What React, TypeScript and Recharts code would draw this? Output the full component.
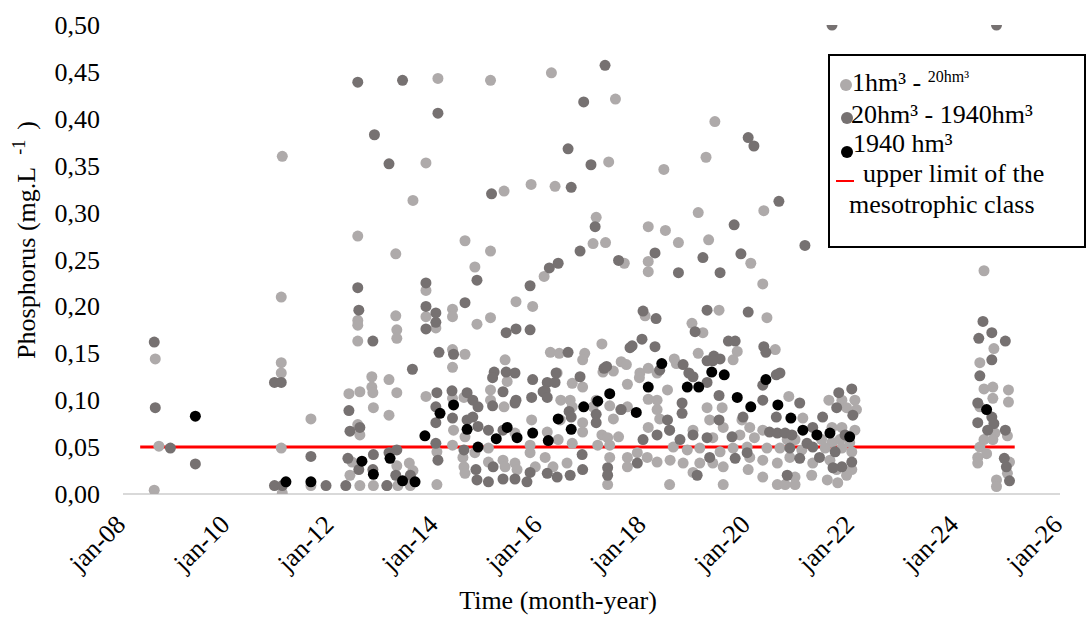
import React from 'react';
import { ScatterChart, Scatter, XAxis, YAxis } from 'recharts';

// [decimal year, total phosphorus mg/L]
const smallReservoirs: [number, number][] = [
  [2008.62, 0.144], [2008.69, 0.051], [2008.60, 0.004],
  [2011.06, 0.360], [2011.04, 0.210], [2011.04, 0.140], [2011.04, 0.129], [2011.04, 0.049], [2011.06, 0.001],
  [2011.61, 0.080], [2011.61, 0.009],
  [2012.51, 0.275], [2013.24, 0.256], [2013.57, 0.313], [2013.82, 0.353], [2012.51, 0.185], [2012.51, 0.180],
  [2012.51, 0.163], [2013.24, 0.190], [2013.26, 0.175], [2013.26, 0.166], [2013.82, 0.189], [2013.82, 0.217],
  [2012.34, 0.107], [2012.55, 0.109], [2012.78, 0.125], [2012.78, 0.114], [2012.80, 0.108], [2013.11, 0.122],
  [2013.26, 0.108], [2013.82, 0.104], [2012.81, 0.092], [2013.11, 0.084], [2012.51, 0.074], [2012.55, 0.063],
  [2012.36, 0.020], [2012.40, 0.034], [2013.26, 0.030], [2013.50, 0.033], [2013.57, 0.025], [2012.55, 0.009],
  [2012.81, 0.009], [2013.07, 0.009], [2013.28, 0.009], [2013.52, 0.009],
  [2014.05, 0.443], [2015.06, 0.441], [2016.23, 0.449], [2017.46, 0.421], [2017.33, 0.354], [2018.39, 0.346],
  [2015.32, 0.323], [2015.84, 0.330], [2016.30, 0.328], [2017.09, 0.295], [2018.09, 0.285], [2018.42, 0.281],
  [2014.57, 0.270], [2015.06, 0.259], [2017.03, 0.267], [2017.27, 0.268], [2017.63, 0.246], [2018.09, 0.248],
  [2018.09, 0.237], [2014.76, 0.242], [2016.09, 0.232], [2014.01, 0.177], [2014.33, 0.197], [2014.33, 0.189],
  [2014.80, 0.181], [2015.06, 0.188], [2015.55, 0.205], [2015.87, 0.200], [2018.03, 0.190], [2017.20, 0.160],
  [2014.33, 0.154], [2014.57, 0.149], [2014.33, 0.135], [2015.34, 0.143], [2016.21, 0.151], [2016.38, 0.150],
  [2016.87, 0.150], [2016.83, 0.143], [2017.57, 0.141],
  [2014.33, 0.102], [2014.55, 0.103], [2015.06, 0.111], [2015.06, 0.100], [2015.32, 0.093], [2015.38, 0.120],
  [2014.35, 0.068], [2014.57, 0.061], [2015.53, 0.065], [2015.85, 0.079], [2014.03, 0.045], [2014.33, 0.052],
  [2014.53, 0.039], [2014.55, 0.029], [2014.57, 0.022], [2014.76, 0.044], [2015.02, 0.049], [2015.02, 0.034],
  [2015.30, 0.036], [2015.34, 0.029], [2015.53, 0.033], [2015.57, 0.026], [2015.82, 0.052], [2015.82, 0.044],
  [2015.92, 0.029], [2014.03, 0.010],
  [2016.34, 0.129], [2016.83, 0.114], [2016.63, 0.118], [2017.22, 0.130], [2017.42, 0.131], [2017.67, 0.138],
  [2017.93, 0.129], [2017.92, 0.124], [2018.09, 0.134], [2018.26, 0.129], [2017.69, 0.117], [2016.41, 0.100],
  [2016.59, 0.100], [2016.63, 0.093], [2016.40, 0.079], [2017.09, 0.100], [2017.03, 0.093], [2017.35, 0.094],
  [2017.42, 0.080], [2017.56, 0.090], [2017.69, 0.093], [2018.09, 0.101], [2018.26, 0.100], [2018.26, 0.090],
  [2018.31, 0.080], [2018.09, 0.071], [2016.15, 0.066], [2016.36, 0.058], [2016.63, 0.054], [2016.83, 0.076],
  [2016.83, 0.066], [2017.20, 0.063], [2017.31, 0.060], [2017.52, 0.061], [2017.12, 0.052], [2017.35, 0.052],
  [2016.11, 0.039], [2016.26, 0.029], [2016.53, 0.033], [2017.35, 0.039], [2017.69, 0.039], [2017.69, 0.029],
  [2017.88, 0.044], [2018.07, 0.039], [2018.26, 0.034], [2017.31, 0.010],
  [2018.93, 0.182], [2019.14, 0.172], [2019.80, 0.152], [2019.72, 0.143], [2020.53, 0.154], [2019.05, 0.150],
  [2018.63, 0.139], [2018.59, 0.144], [2018.46, 0.111], [2019.22, 0.092], [2019.51, 0.092], [2019.27, 0.079],
  [2019.53, 0.071], [2019.89, 0.079], [2020.04, 0.071], [2020.29, 0.068], [2018.50, 0.068], [2018.95, 0.068],
  [2019.33, 0.060], [2019.85, 0.063], [2020.13, 0.060], [2018.57, 0.050], [2018.84, 0.047], [2019.08, 0.049],
  [2019.47, 0.045], [2019.72, 0.049], [2019.99, 0.050], [2020.37, 0.049], [2020.62, 0.049], [2018.51, 0.036],
  [2018.76, 0.033], [2019.08, 0.033], [2019.33, 0.033], [2019.53, 0.029], [2020.04, 0.039], [2020.29, 0.036],
  [2020.57, 0.033], [2018.95, 0.023], [2020.01, 0.026], [2020.29, 0.018], [2020.57, 0.010], [2018.50, 0.010],
  [2019.53, 0.010],
  [2019.37, 0.397], [2019.20, 0.359], [2020.31, 0.302], [2019.05, 0.300], [2018.67, 0.268], [2019.25, 0.271],
  [2020.06, 0.246], [2020.29, 0.224], [2019.45, 0.196], [2020.37, 0.188],
  [2020.79, 0.104], [2021.06, 0.081], [2021.56, 0.100], [2021.81, 0.100], [2022.06, 0.100], [2021.90, 0.092],
  [2022.09, 0.090], [2021.62, 0.071], [2021.81, 0.071], [2022.06, 0.068], [2020.76, 0.058], [2020.91, 0.058],
  [2021.04, 0.047], [2021.42, 0.058], [2021.62, 0.055], [2021.77, 0.058], [2021.96, 0.055], [2021.49, 0.049],
  [2021.81, 0.049], [2022.00, 0.045], [2020.81, 0.039], [2021.25, 0.033], [2021.58, 0.036], [2020.91, 0.018],
  [2021.23, 0.020], [2021.53, 0.015], [2022.00, 0.026], [2021.71, 0.026], [2021.90, 0.020], [2020.72, 0.010],
  [2020.91, 0.010], [2021.73, 0.012],
  [2024.54, 0.238], [2024.73, 0.155], [2024.46, 0.140], [2024.54, 0.112], [2024.71, 0.114], [2025.01, 0.111],
  [2024.71, 0.102], [2025.01, 0.098], [2024.46, 0.093], [2024.99, 0.062], [2024.75, 0.065], [2024.71, 0.058],
  [2024.54, 0.058], [2024.46, 0.050], [2024.59, 0.043], [2024.42, 0.039], [2024.42, 0.033], [2025.03, 0.034],
  [2024.99, 0.022], [2024.78, 0.015], [2024.78, 0.008],
];

const mediumReservoirs: [number, number][] = [
  [2008.60, 0.162], [2008.62, 0.092], [2008.91, 0.049], [2009.39, 0.032],
  [2010.91, 0.119], [2011.04, 0.119], [2010.91, 0.009], [2011.06, 0.009],
  [2011.61, 0.040], [2011.90, 0.009],
  [2012.51, 0.439], [2013.37, 0.441], [2012.83, 0.383], [2013.11, 0.352], [2012.51, 0.220], [2013.82, 0.225],
  [2012.53, 0.196], [2012.80, 0.163], [2013.82, 0.200], [2013.82, 0.176], [2013.56, 0.133], [2012.34, 0.089],
  [2012.55, 0.071], [2012.36, 0.067], [2012.32, 0.038], [2012.53, 0.026], [2012.81, 0.042], [2012.80, 0.026],
  [2013.11, 0.044], [2013.26, 0.047], [2013.24, 0.020], [2013.52, 0.020], [2012.28, 0.009], [2013.07, 0.009],
  [2014.05, 0.406], [2017.26, 0.457], [2016.85, 0.418], [2016.55, 0.368], [2016.99, 0.351], [2015.08, 0.320],
  [2016.61, 0.327], [2017.07, 0.285], [2016.78, 0.259], [2018.22, 0.257], [2017.52, 0.249], [2016.19, 0.241],
  [2016.36, 0.246], [2014.80, 0.228], [2015.82, 0.222], [2014.01, 0.193], [2014.01, 0.183], [2014.57, 0.204],
  [2015.36, 0.172], [2015.55, 0.176], [2015.82, 0.175], [2017.99, 0.195], [2018.24, 0.187], [2017.78, 0.158],
  [2017.74, 0.156], [2017.97, 0.165], [2018.22, 0.157], [2014.07, 0.151], [2014.35, 0.149], [2016.55, 0.151],
  [2017.24, 0.134], [2017.29, 0.136],
  [2015.13, 0.130], [2015.10, 0.124], [2015.36, 0.130], [2015.53, 0.129], [2015.87, 0.122], [2014.03, 0.108],
  [2014.01, 0.093], [2014.32, 0.110], [2014.61, 0.108], [2014.72, 0.100], [2014.82, 0.093], [2015.10, 0.094],
  [2015.30, 0.109], [2015.53, 0.097], [2015.55, 0.100], [2015.85, 0.103], [2016.07, 0.109], [2014.01, 0.076],
  [2014.33, 0.081], [2014.61, 0.079], [2014.72, 0.082], [2014.82, 0.072], [2015.02, 0.068], [2015.30, 0.068],
  [2014.01, 0.054], [2014.05, 0.036], [2014.55, 0.047], [2014.78, 0.026], [2014.80, 0.015], [2015.11, 0.029],
  [2015.02, 0.013], [2015.30, 0.016], [2015.53, 0.016], [2015.82, 0.023], [2015.76, 0.013],
  [2016.32, 0.129], [2016.15, 0.119], [2016.30, 0.119], [2016.11, 0.110], [2016.15, 0.103], [2016.78, 0.125],
  [2018.31, 0.132], [2016.57, 0.088], [2016.61, 0.082], [2017.09, 0.085], [2017.09, 0.076], [2017.57, 0.090],
  [2017.99, 0.058], [2018.26, 0.063], [2016.15, 0.022], [2016.34, 0.018], [2016.59, 0.020], [2016.82, 0.042],
  [2016.83, 0.026], [2017.31, 0.028], [2017.31, 0.020], [2017.88, 0.033],
  [2018.99, 0.173], [2019.63, 0.163], [2019.76, 0.163], [2020.31, 0.157], [2020.35, 0.151], [2019.22, 0.142],
  [2019.35, 0.147], [2019.47, 0.144], [2019.33, 0.142], [2018.76, 0.138], [2018.87, 0.129], [2018.95, 0.125],
  [2019.22, 0.119], [2019.45, 0.105], [2018.74, 0.097], [2018.74, 0.086], [2019.45, 0.079], [2019.91, 0.082],
  [2020.29, 0.100], [2020.29, 0.116], [2020.55, 0.127], [2020.55, 0.082], [2018.46, 0.079], [2018.50, 0.068],
  [2018.70, 0.058], [2018.95, 0.063], [2019.22, 0.060], [2019.27, 0.039], [2019.70, 0.061], [2019.99, 0.044],
  [2020.42, 0.066], [2020.57, 0.065], [2019.03, 0.020], [2019.76, 0.038],
  [2020.01, 0.380], [2020.12, 0.371], [2020.60, 0.312], [2019.74, 0.287], [2019.14, 0.252], [2019.87, 0.256],
  [2021.10, 0.265], [2018.67, 0.236], [2019.47, 0.236], [2019.22, 0.196], [2020.01, 0.194],
  [2021.62, 0.500], [2024.78, 0.500],
  [2020.62, 0.129], [2021.00, 0.097], [2021.75, 0.108], [2022.00, 0.112], [2021.71, 0.092], [2022.02, 0.084],
  [2021.44, 0.082], [2021.25, 0.071], [2021.87, 0.063], [2020.72, 0.065], [2020.85, 0.063], [2021.14, 0.054],
  [2020.81, 0.049], [2021.25, 0.050], [2021.68, 0.045], [2021.00, 0.038], [2021.38, 0.039], [2022.00, 0.034],
  [2021.81, 0.029], [2021.64, 0.028], [2020.76, 0.020],
  [2024.52, 0.184], [2024.69, 0.172], [2024.44, 0.166], [2024.95, 0.163], [2024.69, 0.143], [2024.46, 0.126],
  [2024.42, 0.097], [2024.69, 0.082], [2024.73, 0.075], [2024.42, 0.076], [2024.61, 0.068], [2024.95, 0.068],
  [2024.93, 0.038], [2024.97, 0.029], [2025.03, 0.014],
];

const largeReservoirs: [number, number][] = [
  [2009.39, 0.083], [2011.13, 0.013], [2011.61, 0.013], [2013.80, 0.062], [2012.59, 0.035], [2012.81, 0.021],
  [2013.13, 0.038], [2013.37, 0.014], [2013.61, 0.013], [2014.09, 0.086], [2014.35, 0.095], [2014.61, 0.069],
  [2015.17, 0.059], [2015.38, 0.071], [2015.57, 0.060], [2015.87, 0.065], [2014.82, 0.050], [2017.35, 0.107],
  [2016.85, 0.093], [2017.12, 0.099], [2018.09, 0.114], [2017.86, 0.087], [2016.36, 0.080], [2016.61, 0.069],
  [2016.17, 0.057], [2018.35, 0.139], [2019.31, 0.130], [2019.55, 0.127], [2018.84, 0.114], [2019.06, 0.114],
  [2019.80, 0.103], [2020.06, 0.093], [2020.35, 0.122], [2020.58, 0.095], [2020.83, 0.081], [2021.06, 0.068],
  [2021.33, 0.063], [2021.58, 0.065], [2021.96, 0.061], [2024.59, 0.090],
];

const mesotrophicLimit = 0.05;
const limitSpan = [2008.33, 2025.13];
const xTicks = [2008, 2010, 2012, 2014, 2016, 2018, 2020, 2022, 2024, 2026];
const yTicks = [0, 0.05, 0.1, 0.15, 0.2, 0.25, 0.3, 0.35, 0.4, 0.45, 0.5];

const LIGHT = '#aeaaaa';
const DARK = '#767171';
const BLACK = '#000000';
const FONT = '"Liberation Serif", "Times New Roman", serif';

const toPoints = (rows: [number, number][]) => rows.map(([x, y]) => ({ x, y }));
const limitLine = limitSpan.map((x) => ({ x, y: mesotrophicLimit }));

const dot = (color: string) => (p: any) => <circle cx={p.cx} cy={p.cy} r={5.5} fill={color} />;

const XTick = ({ x, y, payload }: any) => {
  const bx = x + 4;
  const by = y + 24;
  return (
    <text
      x={bx}
      y={by}
      transform={`rotate(-45 ${bx} ${by})`}
      textAnchor="end"
      style={{ fontFamily: FONT, fontSize: 26 }}
      fill="#000"
    >
      {`jan-${String(payload.value).slice(2)}`}
    </text>
  );
};

const YTick = ({ x, y, payload }: any) => (
  <text x={x} y={y} dy={9} textAnchor="end" style={{ fontFamily: FONT, fontSize: 26 }} fill="#000">
    {payload.value.toFixed(2).replace('.', ',')}
  </text>
);

const XTitle = () => (
  <text x={558} y={609} textAnchor="middle" style={{ fontFamily: FONT, fontSize: 26 }} fill="#000">
    Time (month-year)
  </text>
);

const YTitle = () => (
  <text x={-240} y={35} transform="rotate(-90)" textAnchor="middle" style={{ fontFamily: FONT, fontSize: 26 }} fill="#000">
    Phosphorus (mg.L
    <tspan style={{ fontSize: 18 }} dx={12} dy={-10}>-1</tspan>
    <tspan dx={10} dy={10}>)</tspan>
  </text>
);

const LegendBox = () => (
  <svg width={258} height={194} style={{ position: 'absolute', left: 828, top: 54 }}>
    <rect x={1} y={1} width={256} height={192} fill="#fff" stroke="#000" strokeWidth={2} />
    <g style={{ fontFamily: FONT, fontSize: 26 }} fill="#000">
      <circle cx={18} cy={31} r={6} fill={LIGHT} />
      <text x={24} y={37}>
        1hm³ - <tspan style={{ fontSize: 16 }} dy={-9}>20hm³</tspan>
      </text>
      <circle cx={19} cy={64} r={6} fill={DARK} />
      <text x={23} y={69}>20hm³ - 1940hm³</text>
      <circle cx={19} cy={98} r={6} fill={BLACK} />
      <text x={25} y={98}>1940 hm³</text>
      <line x1={8} x2={26} y1={127} y2={127} stroke="#ff0000" strokeWidth={2} />
      <text x={35} y={128}>upper limit of the</text>
      <text x={21} y={159}>mesotrophic class</text>
    </g>
  </svg>
);

export default function App() {
  return (
    <div style={{ position: 'absolute', left: 0, top: 0, width: 1087, height: 617, background: '#fff', fontFamily: FONT }}>
      <ScatterChart width={1087} height={617} margin={{ top: 25, right: 27, bottom: 0, left: 0 }} style={{ fontFamily: FONT }}>
        <XAxis
          type="number"
          dataKey="x"
          domain={[2008, 2026]}
          ticks={xTicks}
          interval={0}
          allowDataOverflow
          height={123}
          axisLine={{ stroke: '#d9d9d9', strokeWidth: 2 }}
          tickLine={false}
          tick={<XTick />}
          label={<XTitle />}
        />
        <YAxis
          type="number"
          dataKey="y"
          domain={[0, 0.5]}
          ticks={yTicks}
          interval={0}
          allowDataOverflow
          width={123}
          axisLine={false}
          tickLine={false}
          tickMargin={17}
          tick={<YTick />}
          label={<YTitle />}
        />
        <Scatter
          name="upper limit of the mesotrophic class"
          data={limitLine}
          line={{ stroke: '#ff0000', strokeWidth: 3 }}
          shape={() => <g />}
          isAnimationActive={false}
        />
        <Scatter name="1hm³ - 20hm³" data={toPoints(smallReservoirs)} shape={dot(LIGHT)} isAnimationActive={false} />
        <Scatter name="20hm³ - 1940hm³" data={toPoints(mediumReservoirs)} shape={dot(DARK)} isAnimationActive={false} />
        <Scatter name="1940 hm³" data={toPoints(largeReservoirs)} shape={dot(BLACK)} isAnimationActive={false} />
      </ScatterChart>
      <LegendBox />
    </div>
  );
}
